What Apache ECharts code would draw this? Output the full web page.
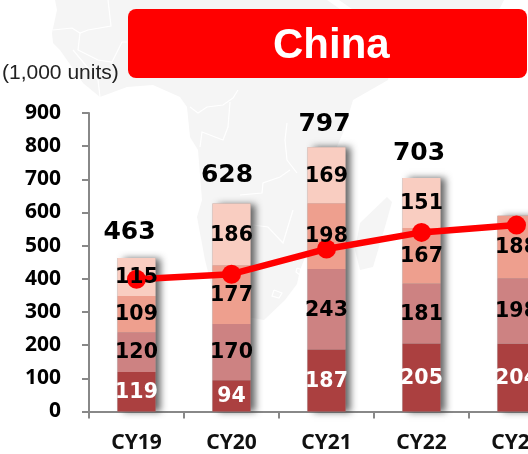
<!DOCTYPE html>
<html><head><meta charset="utf-8">
<style>html,body{margin:0;padding:0;background:#fff}#c{width:528px;height:454px}</style>
<script src="https://cdn.jsdelivr.net/npm/echarts@6/dist/echarts.min.js"></script>
</head><body><div id="c"></div>
<script>
const categories = ['CY19','CY20','CY21','CY22','CY23'];
const seg1 = [119,94,187,205,204];
const seg2 = [120,170,243,181,198];
const seg3 = [109,177,198,167,188];
const seg4 = [115,186,169,151,null];
const totals = [463,628,797,703,null];
const trend = [399,414,490,540,562];
const yTicks = [0,900];
const totalLabelShift = [[-7,0],[-4.5,-3],[-2,2],[-2.5,0],[0,0]];

const mapLand = [[55,0],[57,10],[52,33],[53,43],[60,50],[83,83],[100,97],[127,87],[153,85],[180,97],[187,107],[190,137],[198,150],[202,200],[197,217],[205,260],[215,300],[235,316],[253,318],[264,320],[285,300],[297,284],[300,270],[318,225],[322,180],[343,133],[353,100],[388,80],[392,60],[370,30],[327,0]];
const mapArabia = [[339,0],[504,0],[500,8],[440,60],[400,60],[375,25]];
const mapIsland = [[360,223],[387,197],[392,202],[385,227],[373,267],[360,270],[355,250]];
const mapBorders = [
 [[108,0],[111,26],[88,30],[80,33],[72,28],[53,30]],
 [[80,33],[78,50],[98,60],[112,62],[122,42],[127,42]],
 [[100,97],[98,80],[73,50]],
 [[190,107],[198,113],[207,107],[223,105],[233,98],[238,90]],
 [[230,102],[228,127],[223,140],[202,132],[200,147]],
 [[287,123],[285,140],[287,160],[297,173]],
 [[290,170],[280,177],[263,183],[262,193],[240,195]],
 [[253,225],[268,227],[283,243],[293,210]],
 [[274,290],[282,293],[279,298],[272,296],[274,290]],
 [[297,268],[303,270],[300,275],[296,272],[297,268]]
];

const colors = ['#AB4040','#CD8282','#EE9F8E','#F9CDC1'];
const dataFont = {fontFamily:'DejaVu Sans',fontWeight:'bold',fontSize:20.5};
const rows = [seg1,seg2,seg3,seg4];
const stackTops = categories.map((_,i)=>rows.reduce((s,r)=>s+(r[i]||0),0));

const shadowSeries = {
  type:'bar',stack:'shadow',data:stackTops,barWidth:38,barGap:'-100%',z:1,silent:true,
  itemStyle:{color:'#999',shadowColor:'rgba(50,50,50,0.75)',shadowBlur:7,shadowOffsetX:5,shadowOffsetY:0}
};
const barSeries = rows.map((d,i)=>({
  type:'bar',stack:'bars',data:d,barWidth:38,barGap:'-100%',z:2,silent:true,
  itemStyle:{color:colors[i]}
}));
const labelSeries = rows.map((d,i)=>({
  type:'bar',stack:'labels',data:d,barWidth:38,barGap:'-100%',z:5,silent:true,
  itemStyle:{color:'transparent'},
  label:Object.assign({show:true,position:'inside',offset:[0,1],color:i===0?'#fff':'#000'},dataFont)
}));

const chart = echarts.init(document.getElementById('c'),null,{renderer:'canvas'});
chart.setOption({
  animation:false,
  backgroundColor:'#fff',
  grid:{left:89,top:113,width:475,height:298.5,containLabel:false,outerBoundsMode:'none'},
  xAxis:{type:'category',data:categories,
    axisLine:{lineStyle:{color:'#888',width:2}},
    axisTick:{show:true,length:7,alignWithLabel:false,lineStyle:{color:'#888',width:2}},
    axisLabel:{color:'#111',fontFamily:'Noto Sans',fontWeight:'bold',fontSize:21,margin:21,hideOverlap:false}},
  yAxis:{type:'value',min:yTicks[0],max:yTicks[1],interval:100,
    axisLine:{show:true,lineStyle:{color:'#888',width:2}},
    axisTick:{show:true,length:7,lineStyle:{color:'#888',width:2}},
    splitLine:{show:false},
    axisLabel:{color:'#000',fontFamily:'Noto Sans',fontWeight:'bold',fontSize:21,margin:28}},
  series:[shadowSeries,...barSeries,
    {type:'line',data:trend,z:3,silent:true,symbol:'circle',symbolSize:19,
     lineStyle:{color:'#f00',width:6.5},itemStyle:{color:'#f00'}},
    ...labelSeries,
    {type:'line',data:totals.map((v,i)=>({value:v,label:{offset:totalLabelShift[i]}})),z:5,silent:true,symbol:'circle',symbolSize:1,showSymbol:true,showAllSymbol:true,
     lineStyle:{color:'transparent',width:0},itemStyle:{color:'transparent'},
     label:{show:true,position:'top',distance:12,color:'#000',fontFamily:'DejaVu Sans',fontWeight:'bold',fontSize:25}}
  ],
  graphic:{elements:[
    ...[mapLand,mapArabia,mapIsland].map(p=>({type:'polygon',z:-10,silent:true,shape:{points:p},style:{fill:'#f5f5f5'}})),
    ...mapBorders.map(p=>({type:'polyline',z:-9,silent:true,shape:{points:p},style:{stroke:'#fff',lineWidth:1.2,fill:null}})),
    {type:'rect',z:10,silent:true,shape:{x:128,y:9,width:399,height:69,r:8},style:{fill:'#f00'}},
    {type:'text',z:11,silent:true,left:273,top:25,style:{text:'China',fill:'#fff',font:'bold 42px "Liberation Sans"'}},
    {type:'text',z:11,silent:true,left:2,top:63,style:{text:'(1,000 units)',fill:'#222',font:'21px "Liberation Sans"'}}
  ]}
});
</script></body></html>
